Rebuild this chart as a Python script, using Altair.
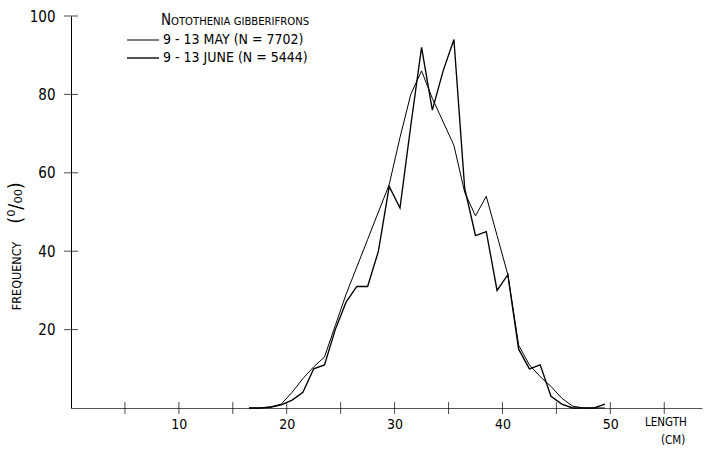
import altair as alt
import pandas as pd

# length class midpoints (cm)
lengths = [16.5, 17.5, 18.5, 19.5, 20.5, 21.5, 22.5, 23.5, 24.5, 25.5, 26.5,
           27.5, 28.5, 29.5, 30.5, 31.5, 32.5, 33.5, 34.5, 35.5, 36.5, 37.5,
           38.5, 39.5, 40.5, 41.5, 42.5, 43.5, 44.5, 45.5, 46.5, 47.5, 48.5, 49.5]
# frequency (per mille)
may_freq = [0, 0, 0.3, 1, 4, 7.5, 10.5, 13, 21, 29, 36,
            43, 50, 57, 69, 80, 86, 79, 73, 67, 55, 49,
            54, 44, 34, 16, 11, 8, 5.5, 2.5, 0.5, 0, 0, 0]
june_freq = [0, 0, 0.2, 0.8, 2, 4, 10, 11, 20, 27, 31,
             31, 40, 56.5, 51, 72, 92, 76, 86, 94, 56, 44,
             45, 30, 34, 15, 10, 11, 3, 1, 0, 0, 0, 1]

series_names = ["9 - 13 MAY  (N = 7702)", "9 - 13 JUNE (N = 5444)"]
x_tick_values = [5, 10, 15, 20, 25, 30, 35, 40, 45, 50, 55]
x_label_values = [10, 20, 30, 40, 50]
y_tick_values = [20, 40, 60, 80, 100]

rows = []
for L, m, j in zip(lengths, may_freq, june_freq):
    rows.append({"length": L, "freq": m, "series": series_names[0]})
    rows.append({"length": L, "freq": j, "series": series_names[1]})
df = pd.DataFrame(rows)

FONT = "Liberation Sans Narrow, DejaVu Sans Condensed, Arial Narrow, sans-serif"
WIDTHS = [1.0, 1.35]

xscale = alt.Scale(domain=[0, 58.5], nice=False, zero=False)
yscale = alt.Scale(domain=[0, 100], nice=False)

lines = alt.Chart(df).mark_line(color="black", strokeJoin="miter").encode(
    x=alt.X("length:Q", scale=xscale,
            axis=alt.Axis(values=x_label_values, ticks=False, grid=False,
                          title=None, labelPadding=9, labelFontSize=14,
                          labelFont=FONT, labelColor="black",
                          domainColor="#555", domainWidth=1)),
    y=alt.Y("freq:Q", scale=yscale,
            axis=alt.Axis(values=y_tick_values, ticks=False, grid=False,
                          title=None, labelPadding=16, labelFontSize=15,
                          labelFont=FONT, labelColor="black",
                          domainColor="black", domainWidth=1)),
    detail="series:N",
    strokeWidth=alt.StrokeWidth("series:N",
                                scale=alt.Scale(domain=series_names, range=WIDTHS),
                                legend=None),
)

xticks = alt.Chart(pd.DataFrame({"t": x_tick_values})).mark_tick(
    orient="vertical", size=12, thickness=1, color="black"
).encode(x=alt.X("t:Q", scale=xscale), y=alt.datum(0, scale=yscale))

yticks = alt.Chart(pd.DataFrame({"t": y_tick_values})).mark_tick(
    orient="horizontal", size=14, thickness=1, color="black"
).encode(y=alt.Y("t:Q", scale=yscale), x=alt.datum(0, scale=xscale))

# legend / annotations
title_N = alt.Chart(pd.DataFrame({"s": ["N"]})).mark_text(
    align="left", baseline="alphabetic", fontSize=15, font=FONT, color="black"
).encode(text="s:N", x=alt.value(90), y=alt.value(9))
title_rest = alt.Chart(pd.DataFrame({"s": ["OTOTHENIA GIBBERIFRONS"]})).mark_text(
    align="left", baseline="alphabetic", fontSize=11.2, font=FONT, color="black"
).encode(text="s:N", x=alt.value(100), y=alt.value(9))

leg_df = pd.DataFrame({"series": series_names, "row": [0, 1]})
leg_lines = alt.Chart(leg_df).transform_calculate(
    yy="24 + datum.row * 18"
).mark_rule(color="black").encode(
    x=alt.value(56), x2=alt.value(88),
    y=alt.Y("yy:Q", scale=None),
    strokeWidth=alt.StrokeWidth("series:N",
                                scale=alt.Scale(domain=series_names, range=WIDTHS),
                                legend=None),
)
leg_text = alt.Chart(leg_df).transform_calculate(
    yy="24 + datum.row * 18"
).mark_text(align="left", baseline="middle", fontSize=14, font=FONT, color="black").encode(
    x=alt.value(92), y=alt.Y("yy:Q", scale=None), text="series:N"
)

ytitle1 = alt.Chart(pd.DataFrame({"s": ["FREQUENCY"]})).mark_text(
    angle=270, align="center", baseline="middle", fontSize=12.5, font=FONT, color="black"
).encode(text="s:N", x=alt.value(-54), y=alt.value(260))
ytitle2 = alt.Chart(pd.DataFrame({"s": ["(⁰/₀₀)"]})).mark_text(
    angle=270, align="center", baseline="middle", fontSize=20, font=FONT, color="black"
).encode(text="s:N", x=alt.value(-55), y=alt.value(187))

xtitle1 = alt.Chart(pd.DataFrame({"s": ["LENGTH"]})).mark_text(
    align="left", baseline="middle", fontSize=11.5, font=FONT, color="black"
).encode(text="s:N", x=alt.value(574), y=alt.value(407))
xtitle2 = alt.Chart(pd.DataFrame({"s": ["(CM)"]})).mark_text(
    align="left", baseline="middle", fontSize=11.5, font=FONT, color="black"
).encode(text="s:N", x=alt.value(590), y=alt.value(425))

chart = alt.layer(
    lines, xticks, yticks, title_N, title_rest, leg_lines, leg_text,
    ytitle1, ytitle2, xtitle1, xtitle2
).properties(
    width=631, height=392,
    autosize=alt.AutoSizeParams(type="none"),
    padding={"left": 71, "top": 16, "right": 10, "bottom": 44},
    background="white",
).configure_view(stroke=None)

chart.save("out.html", embed_options={"renderer": "svg", "actions": False})
